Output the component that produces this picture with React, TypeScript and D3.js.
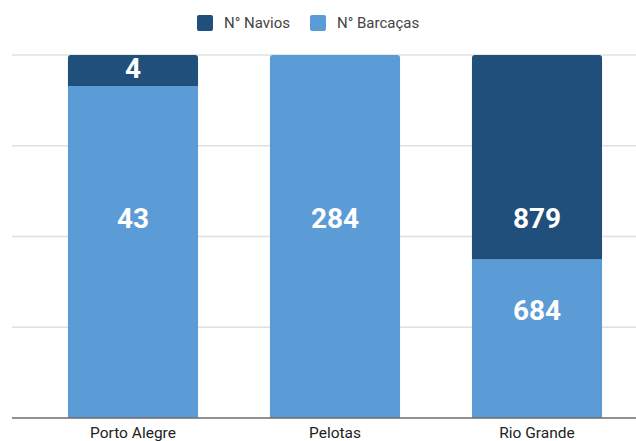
import React from "react";
import * as d3 from "d3";

const categories = ["Porto Alegre", "Pelotas", "Rio Grande"];
const navios = [4, 0, 879];
const barcacas = [43, 284, 684];
const seriesNames = ["N° Navios", "N° Barcaças"];
const gridTicks = [0, 0.25, 0.5, 0.75, 1];
// label anchor positions (share of bar height)
const navioLabelAt = [0.964, 0, 0.551];
const barcacaLabelAt = [0.551, 0.551, 0.2975];

const W = 636;
const H = 441;
const DARK = "#214f7b";
const LIGHT = "#5b9bd6";

export default function App() {
  const x = d3
    .scaleBand<string>()
    .domain(categories)
    .range([32, 638])
    .paddingInner(0.356)
    .paddingOuter(0.178);
  const y = d3.scaleLinear().domain([0, 1]).range([418, 55]);

  const rows = categories.map((c, i) => {
    const total = navios[i] + barcacas[i];
    return { c, i, b: barcacas[i] / total, n: navios[i] / total };
  });

  const roundTop = (x0: number, y0: number, w: number, h: number, r: number) => {
    const p = d3.path();
    p.moveTo(x0, y0 + h);
    p.lineTo(x0, y0 + r);
    p.arcTo(x0, y0, x0 + r, y0, r);
    p.lineTo(x0 + w - r, y0);
    p.arcTo(x0 + w, y0, x0 + w, y0 + r, r);
    p.lineTo(x0 + w, y0 + h);
    p.closePath();
    return p.toString();
  };

  return (
    <svg width={W} height={H} style={{ position: "absolute", left: 0, top: 0, background: "#fff" }}>
      {gridTicks.slice(1).map((t) => (
        <line key={t} x1={12} x2={W} y1={y(t)} y2={y(t)} stroke="#e0e0e0" strokeWidth={1.5} />
      ))}
      {rows.map((r) => {
        const bx = x(r.c)!;
        const bw = x.bandwidth();
        const topB = y(r.b);
        const hasN = r.n > 0;
        return (
          <g key={r.c}>
            {hasN ? (
              <>
                <rect x={bx} y={topB} width={bw} height={y(0) - topB} fill={LIGHT} />
                <path d={roundTop(bx, y(1), bw, topB - y(1), 3)} fill={DARK} />
              </>
            ) : (
              <path d={roundTop(bx, topB, bw, y(0) - topB, 3)} fill={LIGHT} />
            )}
          </g>
        );
      })}
      <line x1={12} x2={W} y1={y(0)} y2={y(0)} stroke="#6b6b6b" strokeWidth={1.5} />
      {rows.map((r) => {
        const cx = x(r.c)! + x.bandwidth() / 2;
        return (
          <g key={"l" + r.c} fontFamily="Roboto, sans-serif" fontWeight={700} fontSize={28} fill="#fff" textAnchor="middle">
            {navios[r.i] > 0 && (
              <text x={cx} y={y(navioLabelAt[r.i])} dy="0.35em">{navios[r.i]}</text>
            )}
            <text x={cx} y={y(barcacaLabelAt[r.i])} dy="0.35em">{barcacas[r.i]}</text>
            <text x={cx} y={438} fill="#222" fontWeight={400} fontSize={15.5}>{r.c}</text>
          </g>
        );
      })}
      <g fontFamily="Roboto, sans-serif" fontSize={15} fill="#444">
        <rect x={197} y={15} width={16} height={16} rx={2} fill={DARK} />
        <text x={224} y={28}>{seriesNames[0]}</text>
        <rect x={310} y={15} width={16} height={16} rx={2} fill={LIGHT} />
        <text x={337} y={28}>{seriesNames[1]}</text>
      </g>
    </svg>
  );
}
